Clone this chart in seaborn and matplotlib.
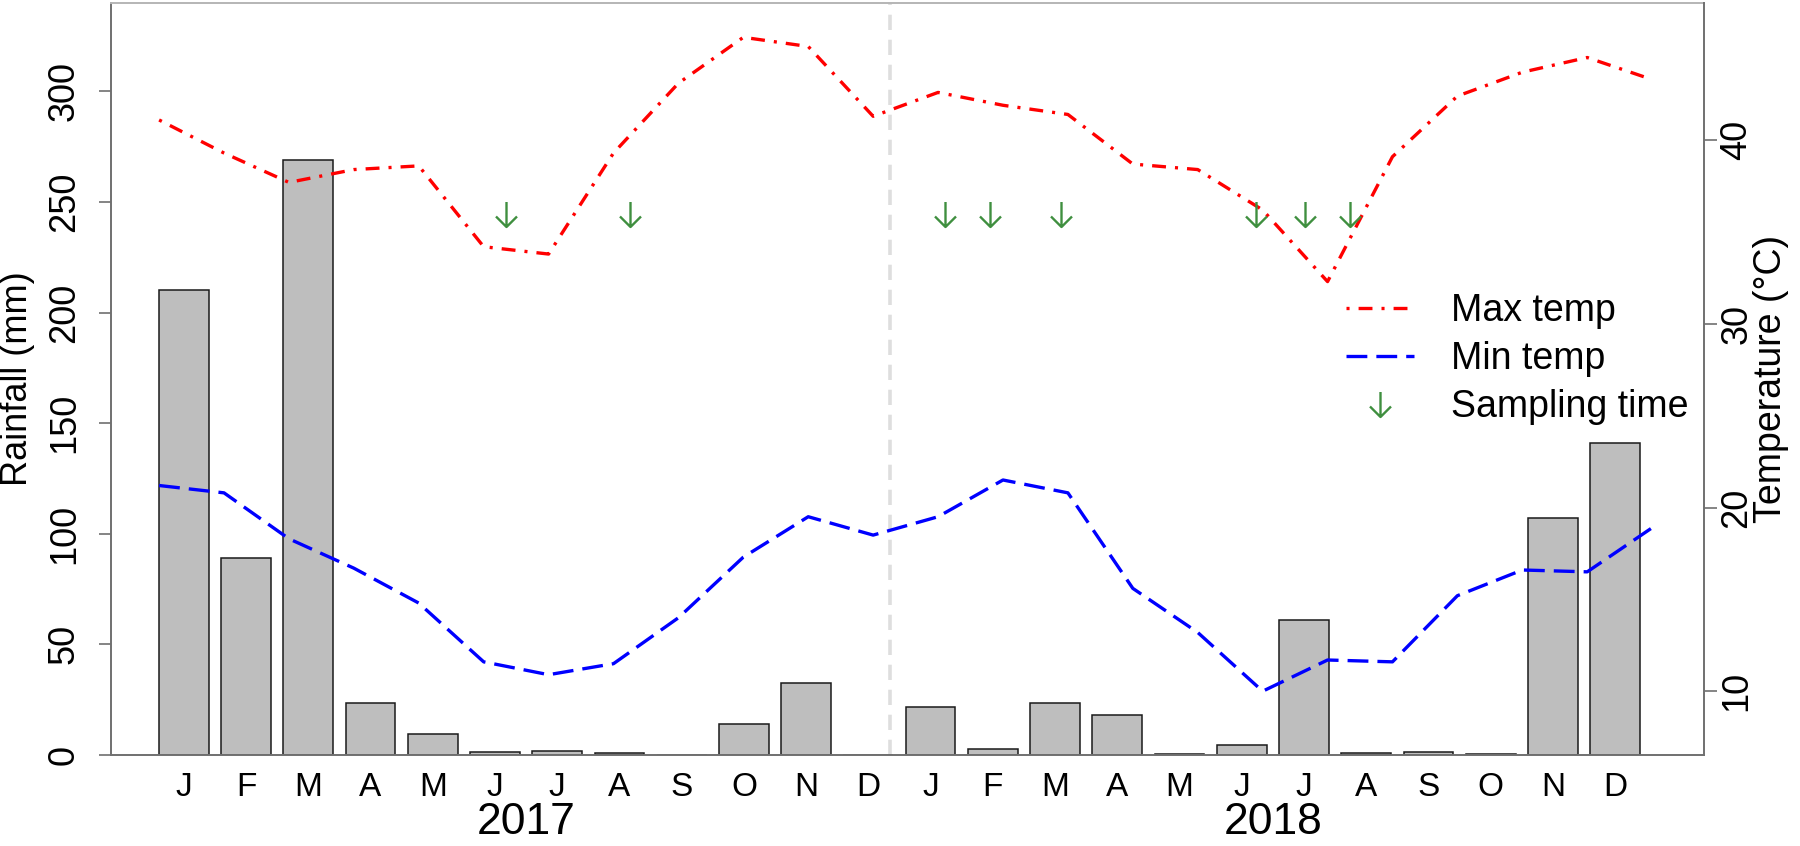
import numpy as np
import matplotlib
matplotlib.use("Agg")
import matplotlib.pyplot as plt
import matplotlib.transforms as mtransforms
from matplotlib.lines import Line2D
from matplotlib.path import Path
import seaborn as sns

# monthly rainfall (mm), Jan 2017 - Dec 2018
rainfall = [210, 89, 269, 23.7, 9.7, 1.5, 2.0, 0.9, 0.0, 14.2, 32.5, 0.0,
            21.5, 2.9, 23.7, 18.1, 0.3, 4.4, 61.0, 0.9, 1.5, 0.6, 107.3, 141.2]
# monthly max / min temperature (°C)
max_temp = [41.1, 39.3, 37.7, 38.4, 38.6, 34.2, 33.8, 39.3, 43.1, 45.6, 45.1, 41.3,
            42.6, 41.9, 41.4, 38.7, 38.4, 36.2, 32.3, 39.1, 42.4, 43.7, 44.5, 43.3]
min_temp = [21.2, 20.8, 18.3, 16.7, 14.8, 11.6, 10.9, 11.5, 14.0, 17.3, 19.5, 18.5,
            19.5, 21.5, 20.8, 15.6, 13.2, 10.0, 11.7, 11.6, 15.2, 16.6, 16.5, 18.9]
# sampling times (month index, 1 = Jan 2017) and the level the arrows sit at
sampling_month = [6.35, 8.25, 13.1, 13.8, 14.9, 17.9, 18.65, 19.35]
sampling_level = 36.0

months = ["J", "F", "M", "A", "M", "J", "J", "A", "S", "O", "N", "D"]
years = ["2017", "2018"]
rain_ticks = [0, 50, 100, 150, 200, 250, 300]
temp_ticks = [10, 20, 30, 40]

sns.set_style("ticks")
plt.rcParams["font.family"] = ["Liberation Sans", "DejaVu Sans"]
plt.rcParams["lines.scale_dashes"] = False
for key in ["text.color", "axes.labelcolor", "xtick.color", "ytick.color"]:
    plt.rcParams[key] = "black"

fig = plt.figure(figsize=(18, 8.46), dpi=100)
rect = [0.0617, 0.1076, 0.885, 0.8889]
ax = fig.add_axes(rect)

idx = np.arange(len(rainfall))
sns.barplot(x=idx, y=rainfall, color="#bebebe", saturation=1, width=0.8,
            edgecolor="#1a1a1a", linewidth=1.1, ax=ax)
ax.set_xlim(-1.17, 24.43)
ax.set_ylim(0, 340)
ax.set_xticks(idx)
ax.set_xticklabels(months + months, fontsize=24)
ax.tick_params(axis="x", length=0, pad=12)
ax.set_yticks(rain_ticks)
ax.set_yticklabels([str(t) for t in rain_ticks], fontsize=26, rotation=90, va="center")
ax.tick_params(axis="y", length=9, width=1.2, color="#707070", pad=12)
ax.set_xlabel("")
ax.set_ylabel("Rainfall (mm)", fontsize=26)
ax.yaxis.set_label_coords(-0.048, 0.5)
for side in ["left", "bottom"]:
    ax.spines[side].set_color("#707070")
    ax.spines[side].set_linewidth(1.4)
ax.spines["top"].set_color("#b5b5b5")
ax.spines["top"].set_linewidth(1.4)
ax.spines["right"].set_visible(False)

# dashed separator between the two years
ax.axvline(11.35, color="#dedede", linewidth=2.6, linestyle=(0, (11, 7)), zorder=0)

# year labels under the month labels
trans = mtransforms.blended_transform_factory(ax.transData, fig.transFigure)
for xpos, yr in zip([5.5, 17.5], years):
    ax.text(xpos, 0.014, yr, transform=trans, ha="center", va="baseline", fontsize=32)

# temperature axis
ax2 = fig.add_axes(rect)
ax2.patch.set_visible(False)
month_no = np.arange(1, len(max_temp) + 1)
red_style = (0, (2.2, 6.5, 10, 6.5))
blue_style = (0, (15, 6.5))
sns.lineplot(x=month_no, y=max_temp, color="#ff0000", linewidth=2.4,
             linestyle=red_style, errorbar=None, ax=ax2)
sns.lineplot(x=month_no, y=min_temp, color="#0000ff", linewidth=2.4,
             linestyle=blue_style, errorbar=None, ax=ax2)

arrow = Path([(0, 0.5), (0, -0.5), (-0.42, -0.08), (0, -0.5), (0.42, -0.08)],
             [Path.MOVETO, Path.LINETO, Path.MOVETO, Path.LINETO, Path.LINETO])
green = "#3f8f3f"
ax2.plot(sampling_month, [sampling_level] * len(sampling_month), ls="none",
         marker=arrow, ms=18, mfc="none", mec=green, mew=1.7)

ax2.set_xlim(0.26, 24.8)
ax2.set_ylim(6.53, 47.47)
ax2.xaxis.set_visible(False)
ax2.yaxis.tick_right()
ax2.yaxis.set_label_position("right")
ax2.set_yticks(temp_ticks)
ax2.set_yticklabels([str(t) for t in temp_ticks], fontsize=26, rotation=90, va="center")
ax2.tick_params(axis="y", length=9, width=1.2, color="#707070", pad=2)
ax2.set_xlabel("")
ax2.set_ylabel("Temperature (°C)", fontsize=27)
ax2.yaxis.set_label_coords(1.031, 0.5)
for side in ["left", "top", "bottom"]:
    ax2.spines[side].set_visible(False)
ax2.spines["right"].set_color("#707070")
ax2.spines["right"].set_linewidth(1.4)

handles = [
    Line2D([], [], color="#ff0000", linewidth=2.4, linestyle=red_style),
    Line2D([], [], color="#0000ff", linewidth=2.4, linestyle=blue_style),
    Line2D([], [], ls="none", marker=arrow, ms=18, mfc="none", mec=green, mew=1.7),
]
ax2.legend(handles, ["Max temp", "Min temp", "Sampling time"], loc="upper left",
           bbox_to_anchor=(0.748, 0.654), bbox_transform=fig.transFigure,
           frameon=False, fontsize=27, handlelength=1.8, handletextpad=1.0,
           labelspacing=0.33, borderpad=0, borderaxespad=0)

fig.savefig("out.png", dpi=100)
